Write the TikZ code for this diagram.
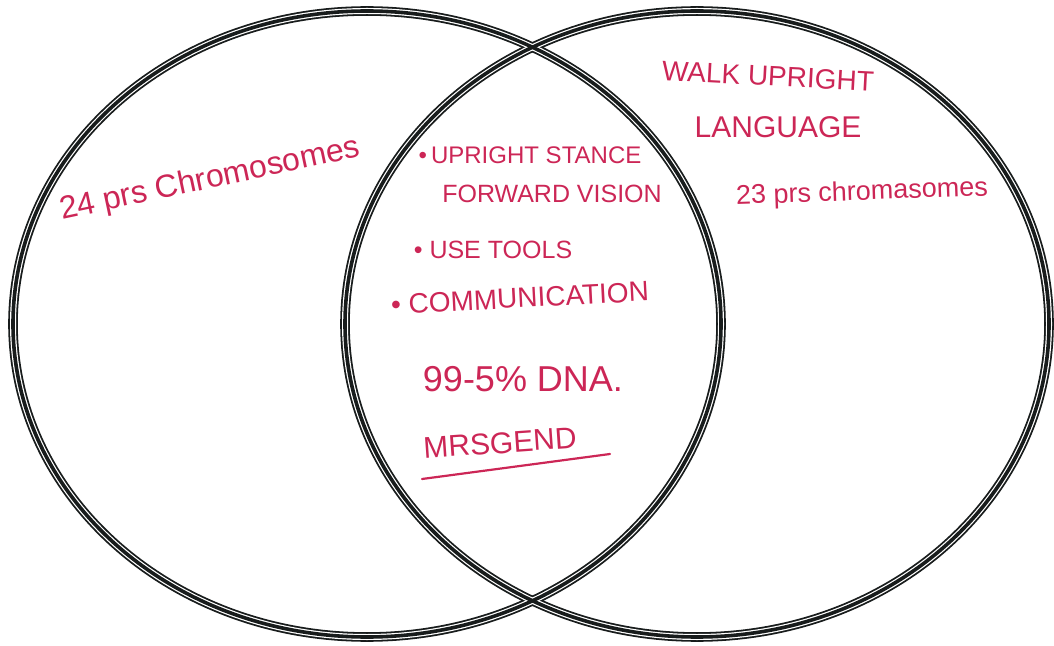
\documentclass[tikz,border=0pt]{standalone}
\usepackage{fontspec}
\setmainfont{Liberation Sans}
\usetikzlibrary{positioning}
\definecolor{penred}{RGB}{204,38,86}
\definecolor{inkblack}{RGB}{24,28,28}

\begin{document}
\begin{tikzpicture}[x=0.5pt,y=-0.5pt,
        outerring/.style={draw=inkblack, line width=4.8pt},
        gapring/.style={draw=white, line width=3pt},
        innerring/.style={draw=inkblack, line width=1.8pt},
        scrawl/.style={text=penred, inner sep=0pt, anchor=center}]
    \useasboundingbox (0,0) rectangle (1054,646);
    % the two sets
    \coordinate (apes) at (367,324);
    \coordinate (humans) at (697,324);
    \foreach \layer in {outerring,gapring,innerring} {
        \path[\layer] (apes) ellipse [x radius=354, y radius=313];
        \path[\layer] (humans) ellipse [x radius=352, y radius=313];
    }
    % left only
    \node[scrawl, rotate=12, font=\fontsize{16}{16}\selectfont] (apechr) at (210,180) {24 prs Chromosomes};
    % right only
    \node[scrawl, rotate=-3, font=\fontsize{14}{14}\selectfont] (walk) at (768,76) {WALK UPRIGHT};
    \node[scrawl, font=\fontsize{15}{15}\selectfont] (lang) at (778,127) {LANGUAGE};
    \node[scrawl, rotate=2, font=\fontsize{13.5}{13.5}\selectfont] (humchr) at (862,193) {23 prs chromasomes};
    % shared
    \node[scrawl, font=\fontsize{12}{12}\selectfont] (stance) at (530,155) {\textbullet\,UPRIGHT STANCE};
    \node[scrawl, font=\fontsize{12.5}{12.5}\selectfont] (vision) at (552,194) {FORWARD VISION};
    \node[scrawl, font=\fontsize{12.5}{12.5}\selectfont] (tools) at (493,250) {\textbullet\ USE TOOLS};
    \node[scrawl, rotate=3, font=\fontsize{14}{14}\selectfont] (comm) at (520,298) {\textbullet\ COMMUNICATION};
    \node[scrawl, font=\fontsize{18}{18}\selectfont] (dna) at (523,379) {99-5\% DNA.};
    \node[scrawl, rotate=4, font=\fontsize{15}{15}\selectfont] (legend) at (500,443) {MRSGEND};
    \coordinate (ulstart) at (422,479);
    \coordinate (ulend) at (610,454);
    \draw[penred, line width=1.1pt, line cap=round] (ulstart) -- (ulend);
\end{tikzpicture}
\end{document}
